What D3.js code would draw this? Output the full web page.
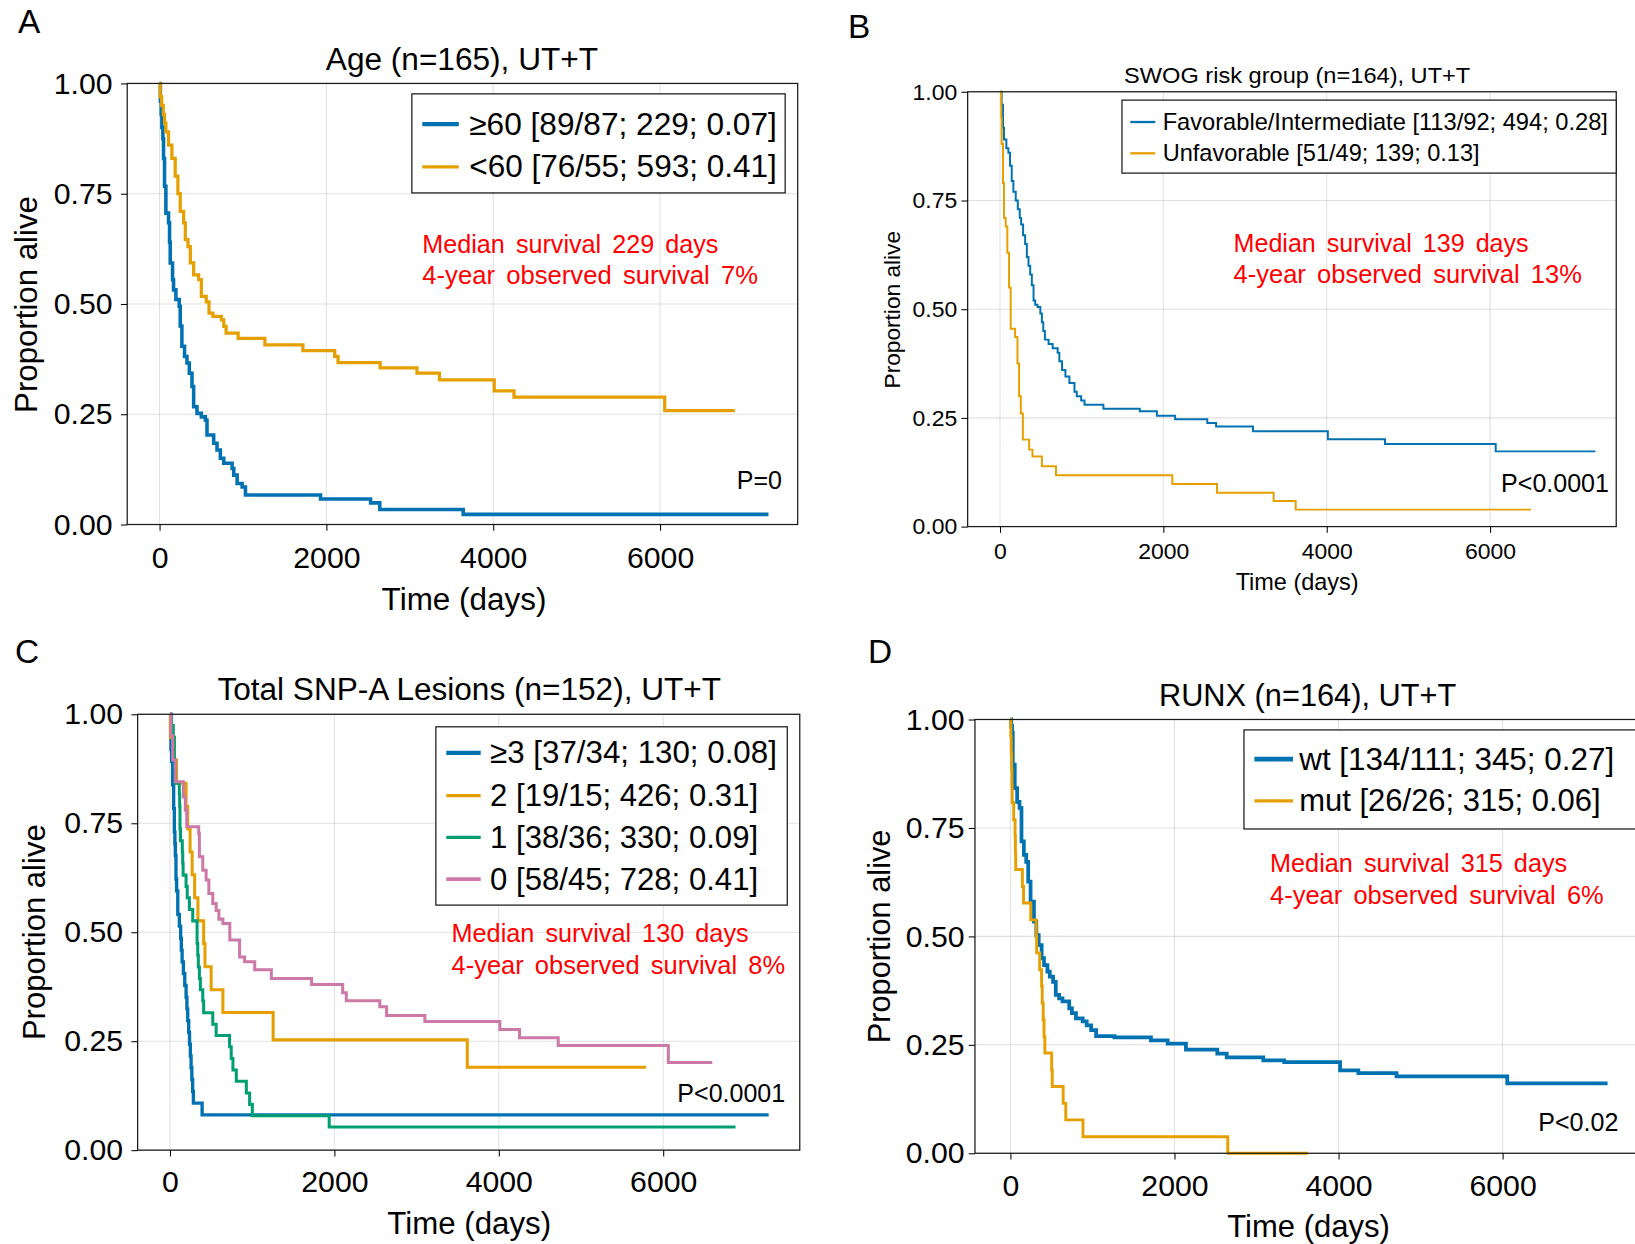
<!DOCTYPE html>
<html>
<head>
<meta charset="utf-8">
<script src="https://cdn.jsdelivr.net/npm/d3@7"></script>
<style>
  body { margin: 0; background: #fff; }
  svg { display: block; }
</style>
</head>
<body>
<svg id="fig" width="1635" height="1244" viewBox="0 0 1568 1193"></svg>
<script>
// Kaplan-Meier step points: time (days) and proportion alive.
// The last point of each series is the end of follow-up.

// A: Age
const ageOldT = [0, 10, 20, 28, 40, 48, 60, 76, 108, 120, 128, 156, 168, 196, 236, 248, 268, 300, 329, 357, 389, 409, 449, 501, 549, 569, 649, 689, 729, 770, 870, 890, 930, 990, 1030, 1930, 2530, 2640, 3640, 7300];
const ageOldS = [1, 0.96, 0.93, 0.9, 0.875, 0.83, 0.767, 0.706, 0.684, 0.64, 0.593, 0.555, 0.532, 0.51, 0.495, 0.45, 0.404, 0.381, 0.366, 0.343, 0.313, 0.267, 0.252, 0.244, 0.237, 0.203, 0.184, 0.169, 0.15, 0.139, 0.127, 0.112, 0.093, 0.085, 0.067, 0.058, 0.049, 0.034, 0.023, 0.023];
const ageYoungT = [0, 8, 25, 45, 60, 76, 108, 148, 188, 220, 248, 289, 309, 341, 369, 409, 469, 501, 560, 593, 640, 741, 770, 798, 942, 1263, 1719, 2100, 2140, 2645, 3086, 3355, 4012, 4249, 6056, 6897];
const ageYoungS = [1, 0.97, 0.95, 0.93, 0.91, 0.89, 0.86, 0.83, 0.79, 0.75, 0.71, 0.684, 0.646, 0.63, 0.593, 0.566, 0.555, 0.517, 0.505, 0.479, 0.472, 0.464, 0.449, 0.434, 0.422, 0.407, 0.394, 0.381, 0.367, 0.355, 0.343, 0.328, 0.303, 0.289, 0.258, 0.258];

// B: SWOG risk group
const swogFavT = [0, 21, 37, 49, 78, 103, 123, 144, 164, 193, 218, 242, 259, 283, 308, 329, 349, 370, 390, 411, 431, 460, 494, 513, 530, 550, 595, 645, 706, 727, 760, 801, 850, 912, 940, 994, 1035, 1266, 1711, 1921, 2144, 2538, 2646, 3098, 4014, 4714, 6069, 7290];
const swogFavS = [1, 0.97, 0.917, 0.89, 0.87, 0.86, 0.83, 0.795, 0.77, 0.75, 0.73, 0.71, 0.695, 0.67, 0.65, 0.62, 0.6, 0.58, 0.555, 0.52, 0.51, 0.505, 0.49, 0.47, 0.45, 0.43, 0.42, 0.41, 0.4, 0.38, 0.36, 0.345, 0.33, 0.31, 0.3, 0.29, 0.28, 0.271, 0.265, 0.255, 0.247, 0.238, 0.23, 0.219, 0.201, 0.19, 0.173, 0.173];
const swogUnfT = [0, 16, 21, 37, 49, 70, 90, 111, 131, 185, 214, 234, 255, 280, 357, 398, 513, 686, 2110, 2657, 3350, 3620, 6502];
const swogUnfS = [1, 0.94, 0.88, 0.79, 0.71, 0.69, 0.63, 0.55, 0.455, 0.436, 0.375, 0.3, 0.26, 0.2, 0.177, 0.161, 0.139, 0.118, 0.098, 0.078, 0.059, 0.039, 0.039];

// C: Total SNP-A lesions
const snp3T = [0, 8, 12, 20, 33, 45, 53, 60, 65, 73, 81, 95, 114, 130, 138, 148, 163, 180, 196, 206, 216, 228, 238, 248, 257, 266, 276, 285, 391, 7283];
const snp3S = [1, 0.946, 0.919, 0.892, 0.838, 0.784, 0.73, 0.703, 0.676, 0.622, 0.595, 0.541, 0.514, 0.486, 0.459, 0.432, 0.405, 0.378, 0.351, 0.324, 0.297, 0.27, 0.243, 0.216, 0.189, 0.162, 0.135, 0.108, 0.081, 0.081];
const snp2T = [0, 5, 55, 80, 196, 216, 245, 270, 300, 340, 410, 426, 501, 644, 1255, 3617, 5792];
const snp2S = [1, 0.947, 0.895, 0.842, 0.789, 0.737, 0.684, 0.632, 0.579, 0.526, 0.474, 0.421, 0.368, 0.316, 0.253, 0.19, 0.19];
const snp1T = [0, 20, 40, 53, 60, 65, 114, 118, 122, 128, 150, 155, 160, 196, 210, 236, 277, 330, 338, 345, 358, 370, 399, 410, 521, 562, 725, 745, 766, 807, 929, 969, 1002, 1937, 6880];
const snp1S = [1, 0.974, 0.947, 0.895, 0.868, 0.842, 0.816, 0.789, 0.737, 0.71, 0.684, 0.658, 0.631, 0.605, 0.579, 0.552, 0.526, 0.474, 0.447, 0.42, 0.394, 0.368, 0.342, 0.315, 0.289, 0.263, 0.237, 0.21, 0.184, 0.158, 0.131, 0.105, 0.079, 0.053, 0.053];
const snp0T = [0, 12, 33, 65, 163, 187, 204, 350, 358, 399, 440, 473, 521, 562, 595, 644, 728, 847, 908, 1031, 1233, 1723, 2101, 2145, 2553, 2635, 3101, 4013, 4252, 4723, 6063, 6597];
const snp0S = [1, 0.95, 0.895, 0.845, 0.81, 0.78, 0.742, 0.726, 0.673, 0.642, 0.62, 0.589, 0.566, 0.55, 0.53, 0.52, 0.482, 0.443, 0.432, 0.414, 0.394, 0.38, 0.361, 0.343, 0.329, 0.309, 0.295, 0.277, 0.258, 0.24, 0.201, 0.201];

// D: RUNX
const runxWtT = [0, 10, 20, 29, 53, 82, 111, 135, 164, 193, 217, 246, 287, 316, 345, 381, 410, 451, 480, 520, 553, 594, 635, 717, 750, 799, 881, 930, 984, 1045, 1268, 1713, 1917, 2140, 2522, 2637, 3083, 3338, 4019, 4242, 4707, 6057, 7280];
const runxWtS = [1, 0.985, 0.97, 0.896, 0.842, 0.81, 0.796, 0.719, 0.688, 0.672, 0.626, 0.58, 0.534, 0.503, 0.48, 0.45, 0.434, 0.419, 0.407, 0.395, 0.365, 0.357, 0.35, 0.334, 0.323, 0.311, 0.304, 0.295, 0.284, 0.27, 0.267, 0.26, 0.253, 0.239, 0.23, 0.221, 0.214, 0.21, 0.191, 0.185, 0.177, 0.161, 0.161];
const runxMutT = [0, 5, 10, 15, 19, 22, 40, 57, 61, 65, 146, 160, 248, 315, 320, 357, 380, 388, 400, 410, 420, 503, 510, 643, 675, 885, 2650, 3624];
const runxMutS = [1, 0.962, 0.923, 0.885, 0.846, 0.808, 0.769, 0.731, 0.692, 0.654, 0.615, 0.577, 0.538, 0.5, 0.462, 0.423, 0.385, 0.346, 0.308, 0.269, 0.231, 0.192, 0.154, 0.115, 0.077, 0.038, 0, 0];

const xTicks = [0, 2000, 4000, 6000];
const yTicks = [0, 0.25, 0.5, 0.75, 1];

const blue = "#0072b2", orange = "#e69f00", green = "#009e73", pink = "#cc79a7";
const FONT = '"Liberation Sans", Arial, Helvetica, sans-serif';

const panels = [
  {
    letter: "A", lx: 28, ly: 21,
    frame: [122, 80, 765, 503], x0: 153, x6000: 633,
    title: "Age (n=165), UT+T", tx: 443, ty: 57, tfs: 30, tw: 261,
    tickFs: 29, xPad: 15, yPad: 8,
    xlab: { x: 445, y: 575, fs: 30, w: 158 }, ylab: { x: 25, y: 292, fs: 30, w: 208 },
    series: [
      { t: ageOldT, s: ageOldS, color: blue, w: 3.4, lw: 4.2, label: "≥60 [89/87; 229; 0.07]", tw: 295 },
      { t: ageYoungT, s: ageYoungS, color: orange, w: 3.1, lw: 3.2, label: "<60 [76/55; 593; 0.41]", tw: 295 }
    ],
    legend: { box: [395, 90, 753, 185], line: [405, 440], tx: 450, ys: [119, 160], fs: 30 },
    stats: { x: 405, ys: [234, 264], lines: ["Median survival 229 days", "4-year observed survival 7%"], ws: [284, 322] },
    p: { text: "P=0", x: 750, y: 460 }
  },
  {
    letter: "B", lx: 824, ly: 25,
    frame: [928, 88, 1550, 505], x0: 959, x6000: 1429,
    title: "SWOG risk group (n=164), UT+T", tx: 1244, ty: 72, tfs: 22, tw: 332,
    tickFs: 22, xPad: 9, yPad: 4,
    xlab: { x: 1244, y: 558, fs: 22.5, w: 118 }, ylab: { x: 855, y: 297, fs: 22, w: 151 },
    series: [
      { t: swogFavT, s: swogFavS, color: blue, w: 1.9, lw: 2.2, label: "Favorable/Intermediate [113/92; 494; 0.28]", tw: 427 },
      { t: swogUnfT, s: swogUnfS, color: orange, w: 1.9, lw: 2.2, label: "Unfavorable [51/49; 139; 0.13]", tw: 304 }
    ],
    legend: { box: [1076, 96, 1550, 166], line: [1084, 1108], tx: 1115, ys: [117, 147], fs: 22.5 },
    stats: { x: 1183, ys: [233, 263], lines: ["Median survival 139 days", "4-year observed survival 13%"], ws: [283, 334] },
    p: { text: "P<0.0001", x: 1543, y: 463 }
  },
  {
    letter: "C", lx: 26, ly: 625,
    frame: [132, 685, 767, 1103], x0: 163, x6000: 636,
    title: "Total SNP-A Lesions (n=152), UT+T", tx: 450, ty: 661, tfs: 30, tw: 483,
    tickFs: 29, xPad: 14, yPad: 8,
    xlab: { x: 450, y: 1173, fs: 30, w: 157 }, ylab: { x: 33, y: 894, fs: 30, w: 207 },
    series: [
      { t: snp3T, s: snp3S, color: blue, w: 3.2, lw: 4.2, label: "≥3 [37/34; 130; 0.08]", tw: 275 },
      { t: snp2T, s: snp2S, color: orange, w: 2.9, lw: 3.2, label: "2 [19/15; 426; 0.31]", tw: 257 },
      { t: snp1T, s: snp1S, color: green, w: 2.9, lw: 3.2, label: "1 [38/36; 330; 0.09]", tw: 257 },
      { t: snp0T, s: snp0S, color: pink, w: 2.9, lw: 3.6, label: "0 [58/45; 728; 0.41]", tw: 257 }
    ],
    legend: { box: [418, 697, 755, 868], line: [428, 461], tx: 470, ys: [722, 763, 803, 843], fs: 30 },
    stats: { x: 433, ys: [895, 925], lines: ["Median survival 130 days", "4-year observed survival 8%"], ws: [285, 320] },
    p: { text: "P<0.0001", x: 753, y: 1048 }
  },
  {
    letter: "D", lx: 844, ly: 625,
    frame: [935, 690, 1574, 1106], x0: 969, x6000: 1441,
    title: "RUNX (n=164), UT+T", tx: 1254, ty: 667, tfs: 29.5, tw: 285,
    tickFs: 29, xPad: 14, yPad: 4,
    xlab: { x: 1255, y: 1176, fs: 29.5, w: 156 }, ylab: { x: 843, y: 898, fs: 29.5, w: 205 },
    series: [
      { t: runxWtT, s: runxWtS, color: blue, w: 3.6, lw: 4.4, label: "wt [134/111; 345; 0.27]", tw: 302 },
      { t: runxMutT, s: runxMutS, color: orange, w: 2.8, lw: 3.0, label: "mut [26/26; 315; 0.06]", tw: 289 }
    ],
    legend: { box: [1193, 700, 1574, 795], line: [1203, 1240], tx: 1246, ys: [728, 768], fs: 29.5 },
    stats: { x: 1218, ys: [828, 858], lines: ["Median survival 315 days", "4-year observed survival 6%"], ws: [285, 320] },
    p: { text: "P<0.02", x: 1552, y: 1076 }
  }
];

const svg = d3.select("#fig");

// text helper: centred vertically, optional target width
function label(g, x, y, str, fs, opts = {}) {
  const t = g.append("text")
    .attr("x", x).attr("y", y)
    .attr("font-family", FONT)
    .attr("font-size", fs)
    .attr("text-anchor", opts.anchor || "start")
    .attr("dominant-baseline", "central")
    .attr("fill", opts.fill || "#000")
    .text(str);
  if (opts.w) t.attr("textLength", opts.w).attr("lengthAdjust", "spacingAndGlyphs");
  if (opts.rotate) t.attr("transform", `rotate(-90,${x},${y})`);
  return t;
}

function drawPanel(p) {
  const [L, T, R, B] = p.frame;
  const x = d3.scaleLinear().domain([0, 6000]).range([p.x0, p.x6000]);
  const y = d3.scaleLinear().domain([0, 1]).range([B, T]);
  const g = svg.append("g");

  // grid
  g.append("g").selectAll("line").data(xTicks).join("line")
    .attr("x1", d => x(d)).attr("x2", d => x(d)).attr("y1", T).attr("y2", B)
    .attr("stroke", "#000").attr("stroke-opacity", 0.12).attr("stroke-width", 1);
  g.append("g").selectAll("line").data(yTicks).join("line")
    .attr("x1", L).attr("x2", R).attr("y1", d => y(d)).attr("y2", d => y(d))
    .attr("stroke", "#000").attr("stroke-opacity", 0.12).attr("stroke-width", 1);

  // survival curves
  const line = d3.line().x(d => x(d[0])).y(d => y(d[1])).curve(d3.curveStepAfter);
  p.series.forEach(s => {
    g.append("path").datum(d3.zip(s.t, s.s))
      .attr("d", line).attr("fill", "none")
      .attr("stroke", s.color).attr("stroke-width", s.w);
  });

  // frame
  g.append("rect").attr("x", L).attr("y", T).attr("width", R - L).attr("height", B - T)
    .attr("fill", "none").attr("stroke", "#1a1a1a").attr("stroke-width", 1.2);

  // axes
  const gx = g.append("g").attr("transform", `translate(0,${B})`)
    .call(d3.axisBottom(x).tickValues(xTicks).tickFormat(d3.format("d")).tickSize(6).tickPadding(p.xPad));
  gx.select(".domain").remove();
  gx.attr("font-family", FONT).attr("font-size", p.tickFs);
  gx.selectAll("text").attr("fill", "#000");

  const gy = g.append("g").attr("transform", `translate(${L},0)`)
    .call(d3.axisLeft(y).tickValues(yTicks).tickFormat(d3.format(".2f")).tickSize(6).tickPadding(p.yPad));
  gy.select(".domain").remove();
  gy.attr("font-family", FONT).attr("font-size", p.tickFs);
  gy.selectAll("text").attr("fill", "#000");

  // labels
  label(g, p.lx, p.ly, p.letter, 32, { anchor: "middle" });
  label(g, p.tx, p.ty, p.title, p.tfs, { anchor: "middle", w: p.tw });
  label(g, p.xlab.x, p.xlab.y, "Time (days)", p.xlab.fs, { anchor: "middle", w: p.xlab.w });
  label(g, p.ylab.x, p.ylab.y, "Proportion alive", p.ylab.fs, { anchor: "middle", w: p.ylab.w, rotate: true });

  // legend
  const lg = p.legend;
  g.append("rect").attr("x", lg.box[0]).attr("y", lg.box[1])
    .attr("width", lg.box[2] - lg.box[0]).attr("height", lg.box[3] - lg.box[1])
    .attr("fill", "#fff").attr("stroke", "#1a1a1a").attr("stroke-width", 1.2);
  p.series.forEach((s, i) => {
    g.append("line").attr("x1", lg.line[0]).attr("x2", lg.line[1])
      .attr("y1", lg.ys[i]).attr("y2", lg.ys[i])
      .attr("stroke", s.color).attr("stroke-width", s.lw);
    label(g, lg.tx, lg.ys[i], s.label, lg.fs, { w: s.tw });
  });

  // median / 4-year text
  p.stats.lines.forEach((str, i) => {
    label(g, p.stats.x, p.stats.ys[i], str, 25, { fill: "#ff0000", w: p.stats.ws[i] })
      .attr("word-spacing", 4);
  });

  label(g, p.p.x, p.p.y, p.p.text, 24, { anchor: "end" });
}

panels.forEach(drawPanel);
</script>
</body>
</html>
